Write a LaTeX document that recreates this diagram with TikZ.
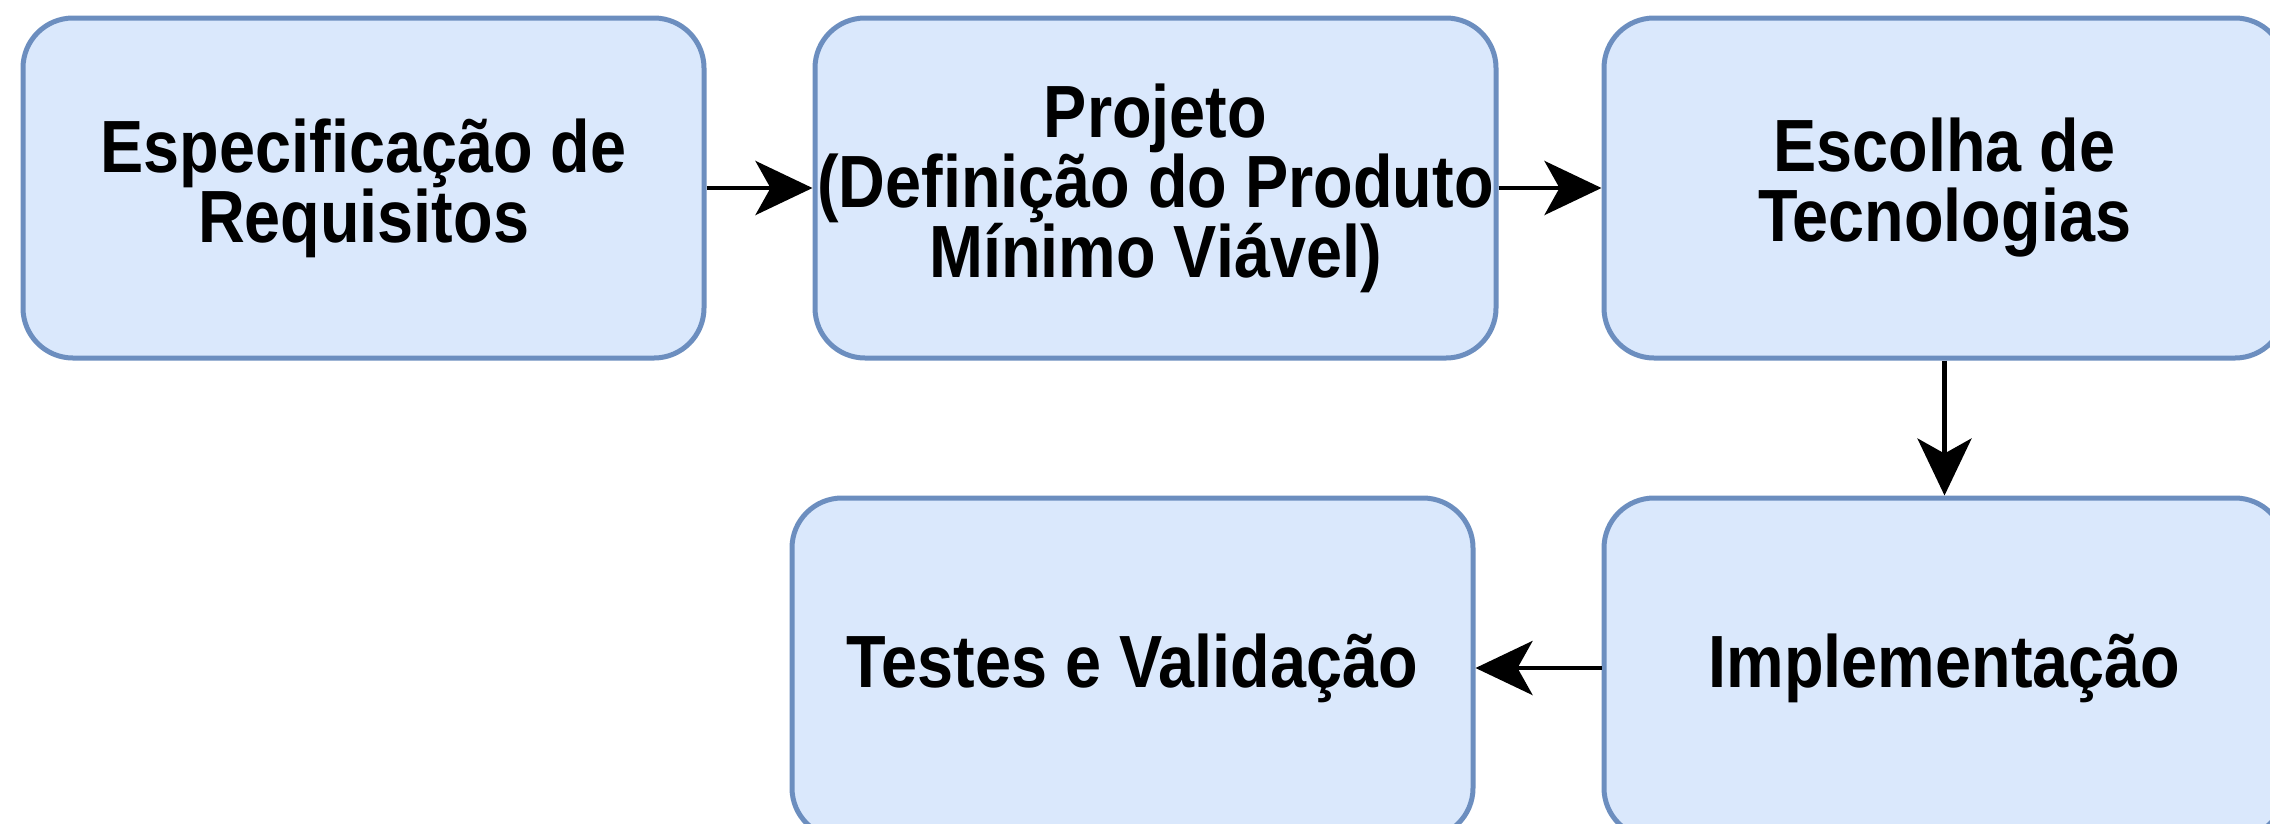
\documentclass[tikz,border=0pt]{standalone}
\usepackage{fontspec}
\setmainfont[FakeStretch=0.875]{Liberation Sans}
\usetikzlibrary{arrows.meta}
\definecolor{boxfill}{HTML}{DAE8FC}
\definecolor{boxline}{HTML}{6C8EBF}
\tikzset{
  stagebox/.style={rectangle, rounded corners=50pt, draw=boxline, fill=boxfill,
    line width=5pt, minimum width=681pt, minimum height=340pt, inner sep=0pt,
    align=center, font=\bfseries\fontsize{74}{70}\selectfont},
  flowarrow/.style={line width=4.5pt, draw=black,
    -{Stealth[length=57pt, width=54pt, inset=15pt]}}
}
\begin{document}
\begin{tikzpicture}[x=1pt,y=-1pt]
\useasboundingbox (0,0) rectangle (2270,823);
\clip (0,0) rectangle (2270,823);
\fill[white] (0,0) rectangle (2270,823);
\node[stagebox] (req) at (363.5,188) {Especificação de\\Requisitos};
\node[stagebox] (proj) at (1155.5,188) {Projeto\\\makebox[0pt]{(Definição do Produto}\\Mínimo Viável)};
\node[stagebox] (tec) at (1944.5,188) {Escolha de\\Tecnologias};
\node[stagebox] (test) at (1132.5,668) {Testes e Validação};
\node[stagebox] (impl) at (1944.5,668) {Implementação};
\draw[flowarrow] (req.east) -- (proj.west);
\draw[flowarrow] (proj.east) -- (tec.west);
\draw[flowarrow] (tec.south) -- (impl.north);
\draw[flowarrow] (impl.west) -- (test.east);
\end{tikzpicture}
\end{document}
